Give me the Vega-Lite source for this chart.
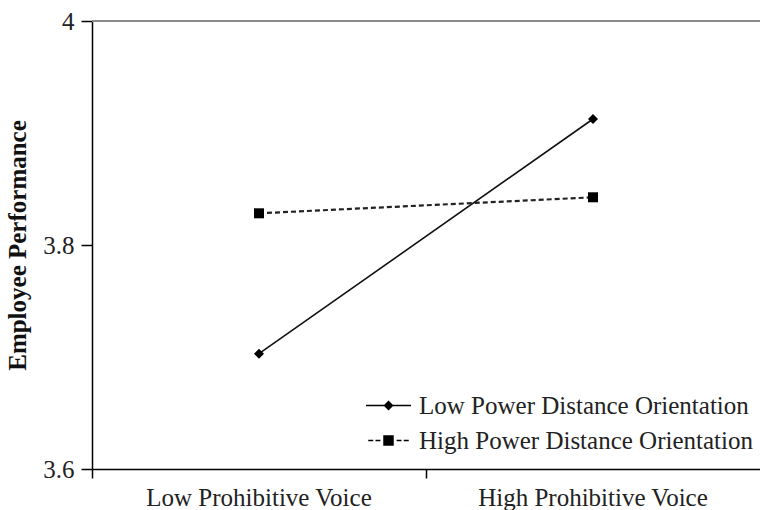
{
  "$schema": "https://vega.github.io/schema/vega-lite/v6.json",
  "width": 668,
  "height": 448,
  "autosize": {"type": "none"},
  "padding": {"left": 92, "top": 21, "right": 0, "bottom": 41},
  "background": "white",
  "config": {"view": {"stroke": null}, "font": "Liberation Serif"},
  "data": {
    "values": [
      {"voice": "Low Prohibitive Voice", "pdo": "Low Power Distance Orientation", "perf": 3.703},
      {"voice": "High Prohibitive Voice", "pdo": "Low Power Distance Orientation", "perf": 3.9125},
      {"voice": "Low Prohibitive Voice", "pdo": "High Power Distance Orientation", "perf": 3.8283},
      {"voice": "High Prohibitive Voice", "pdo": "High Power Distance Orientation", "perf": 3.8426}
    ]
  },
  "encoding": {
    "x": {
      "field": "voice",
      "type": "nominal",
      "sort": ["Low Prohibitive Voice", "High Prohibitive Voice"],
      "scale": {"type": "band", "paddingInner": 0, "paddingOuter": 0},
      "axis": {
        "title": null,
        "labelAngle": 0,
        "bandPosition": 0,
        "tickSize": 9,
        "labelPadding": 7,
        "labelFontSize": 25,
        "labelLimit": 400,
        "labelFont": "Liberation Serif",
        "labelColor": "#222",
        "domainColor": "black",
        "tickColor": "black",
        "domainWidth": 1.5,
        "tickWidth": 1.5,
        "grid": false
      }
    },
    "y": {
      "field": "perf",
      "type": "quantitative",
      "scale": {"domain": [3.6, 4], "nice": false, "zero": false},
      "axis": {
        "title": "Employee Performance",
        "values": [3.6, 3.8, 4],
        "format": "~g",
        "tickSize": 11,
        "labelPadding": 7,
        "labelFontSize": 25,
        "labelFont": "Liberation Serif",
        "labelColor": "#222",
        "titleFont": "Liberation Serif",
        "titleFontSize": 25,
        "titleFontWeight": "bold",
        "titleColor": "#111",
        "titlePadding": 12,
        "domainColor": "black",
        "tickColor": "black",
        "domainWidth": 1.5,
        "tickWidth": 1.5,
        "grid": false
      }
    }
  },
  "layer": [
    {
      "data": {"values": [{"top": 4}]},
      "mark": {"type": "rule", "color": "#8a8a8a", "strokeWidth": 2},
      "encoding": {"x": null, "y": {"field": "top", "type": "quantitative"}}
    },
    {
      "transform": [{"filter": "datum.pdo === 'Low Power Distance Orientation'"}],
      "mark": {"type": "line", "color": "#111", "strokeWidth": 1.6},
      "encoding": {}
    },
    {
      "transform": [{"filter": "datum.pdo === 'High Power Distance Orientation'"}],
      "mark": {"type": "line", "color": "#222", "strokeWidth": 2.2, "strokeDash": [5, 3]},
      "encoding": {}
    },
    {
      "transform": [{"filter": "datum.pdo === 'Low Power Distance Orientation'"}],
      "mark": {"type": "point", "filled": true, "color": "black", "opacity": 1, "shape": "diamond", "size": 100},
      "encoding": {}
    },
    {
      "transform": [{"filter": "datum.pdo === 'High Power Distance Orientation'"}],
      "mark": {"type": "point", "filled": true, "color": "black", "opacity": 1, "shape": "square", "size": 100},
      "encoding": {}
    },
    {
      "transform": [{"filter": "false"}],
      "mark": {"type": "point", "filled": false, "color": "black", "opacity": 1, "strokeWidth": 1.5},
      "encoding": {
        "shape": {
          "field": "pdo",
          "type": "nominal",
          "scale": {
            "domain": ["Low Power Distance Orientation", "High Power Distance Orientation"],
            "range": [
              "M-1.8,0H1.8M-0.32,0L0,-0.32L0.32,0L0,0.32ZM-0.24,0L0,-0.24L0.24,0L0,0.24ZM-0.16,0L0,-0.16L0.16,0L0,0.16ZM-0.08,0L0,-0.08L0.08,0L0,0.08Z",
              "M-1.62,0H-1.22M-1.04,0H-0.65M0.65,0H1.04M1.22,0H1.62M-0.36,-0.36H0.36V0.36H-0.36ZM-0.28,-0.28H0.28V0.28H-0.28ZM-0.2,-0.2H0.2V0.2H-0.2ZM-0.12,-0.12H0.12V0.12H-0.12ZM-0.05,-0.05H0.05V0.05H-0.05Z"
            ]
          },
          "legend": {
            "orient": "none",
            "legendX": 283,
            "legendY": 371,
            "title": null,
            "padding": 0,
            "labelFont": "Liberation Serif",
            "labelFontSize": 25,
            "labelColor": "#222",
            "labelOffset": 17,
            "labelLimit": 500,
            "rowPadding": 8,
            "symbolSize": 625,
            "symbolStrokeColor": "black",
            "symbolStrokeWidth": 1.5,
            "symbolOpacity": 1
          }
        }
      }
    }
  ]
}
